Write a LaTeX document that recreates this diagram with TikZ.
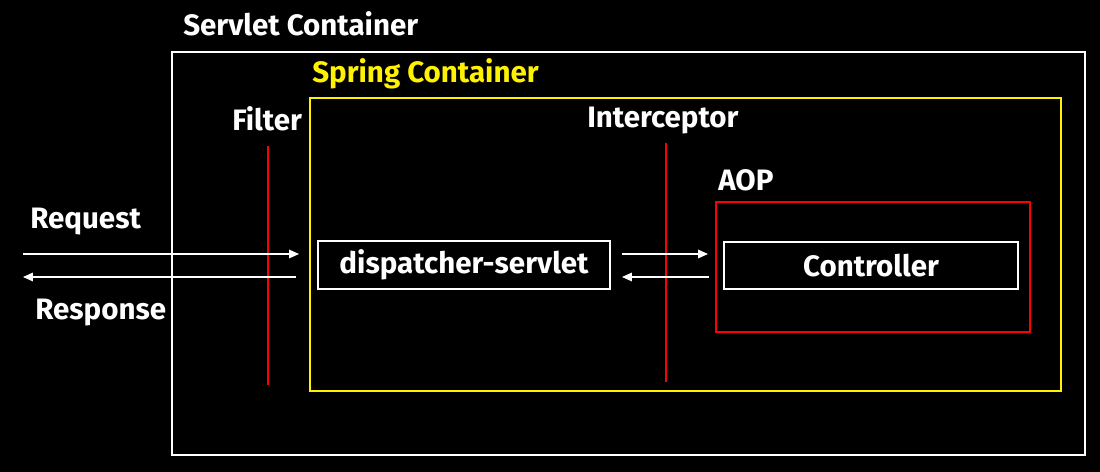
\documentclass[tikz,border=0pt]{standalone}
\usepackage{fontspec}
\setmainfont{Fira Sans}
\usetikzlibrary{arrows.meta, positioning, calc}
\tikzset{
  lbl/.style     = {text=white, font=\bfseries\fontsize{21}{24}\selectfont,
                    inner sep=0pt, anchor=base west},
  boxnode/.style = {rectangle, draw=white, line width=1.4pt, text=white,
                    font=\bfseries\fontsize{21}{24}\selectfont, align=center},
  wall/.style    = {draw=red, line width=1.4pt},
  arr/.style     = {-{Triangle[length=7pt,width=6pt]}, draw=white, line width=1.1pt}
}
\begin{document}
\begin{tikzpicture}[x=0.025cm, y=-0.025cm]
  % canvas
  \fill[black] (0,0) rectangle (1100,472);
  \useasboundingbox (0,0) rectangle (1100,472);

  % containers
  \draw[white, line width=1.4pt] (172,52) rectangle (1085,455);
  \node[lbl] (servlet) at (183,36) {Servlet Container};
  \draw[yellow, line width=1.4pt] (310,98) rectangle (1061,391);
  \node[lbl, text=yellow] (spring) at (312,83) {Spring Container};
  \draw[red, line width=1.4pt] (716,202) rectangle (1030,332);
  \node[lbl] (aop) at (718,191) {AOP};

  % filter and interceptor
  \node[lbl] (filter) at (232,131) {Filter};
  \draw[wall] (268,146) -- (268,385);
  \node[lbl] (icpt) at (587,128) {Interceptor};
  \draw[wall] (666,143) -- (666,382);

  % boxes
  \node[boxnode, minimum width=292*0.025cm, minimum height=48*0.025cm] (disp) at (464,265) {dispatcher-servlet};
  \node[boxnode, minimum width=294*0.025cm, minimum height=47*0.025cm] (ctrl) at (871,265.5) {Controller};

  % request / response
  \node[lbl] (req) at (30,229) {Request};
  \node[lbl] (res) at (35,320) {Response};
  \coordinate (reqin) at (23,254);
  \coordinate (resout) at (23,277);
  \draw[arr] (reqin) -- ($(disp.west |- reqin)+(-18,0)$);
  \draw[arr] ($(disp.west |- resout)+(-21,0)$) -- (resout);
  \draw[arr] ($(disp.east |- reqin)+(11,0)$) -- ($(ctrl.west |- reqin)+(-15,0)$);
  \draw[arr] ($(ctrl.west |- resout)+(-14,0)$) -- ($(disp.east |- resout)+(11,0)$);
\end{tikzpicture}
\end{document}
